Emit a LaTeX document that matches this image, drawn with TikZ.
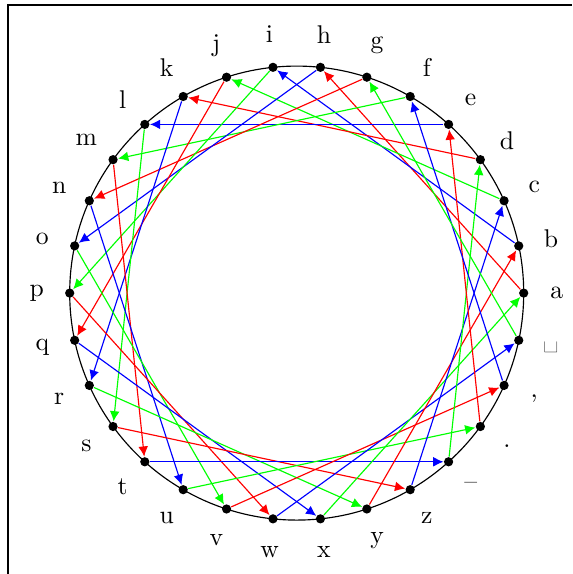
\documentclass[tikz,border=0pt]{standalone}
\usetikzlibrary{arrows.meta,calc}
\begin{document}
\begin{tikzpicture}[x=0.39pt,y=0.39pt,
  dot/.style={circle,fill=black,inner sep=0pt,minimum size=3.6pt},
  lbl/.style={inner sep=0pt},
  arr/.style={-{Latex[length=4pt,width=3.8pt]},line width=0.45pt}]
\useasboundingbox (0,0) rectangle (572,574);
\draw[line width=0.6pt] (8,0) -- (8,569) -- (572,569);
\coordinate (C) at (296.7,280.9);
\draw[line width=0.45pt] (C) circle[radius=88.53pt];
\foreach \t [count=\i from 0] in {a,b,c,d,e,f,g,h,i,j,k,l,m,n,o,p,q,r,s,t,u,v,w,x,y,z,--,.,{,},{\large\textvisiblespace}}{
  \node[dot] (p\i) at ($(C)+(12*\i:88.53pt)$) {};
  \node[lbl] (l\i) at ($(C)+(12*\i:101.4pt)$) {\t};
}
\foreach \i in {0,...,29}{
  \pgfmathtruncatemacro\j{mod(\i+7,30)}
  \pgfmathtruncatemacro\k{mod(\i,3)}
  \ifcase\k \def\c{red}\or \def\c{blue}\or \def\c{green}\fi
  \draw[arr,color=\c] (p\i) -- (p\j);
}
\end{tikzpicture}
\end{document}
